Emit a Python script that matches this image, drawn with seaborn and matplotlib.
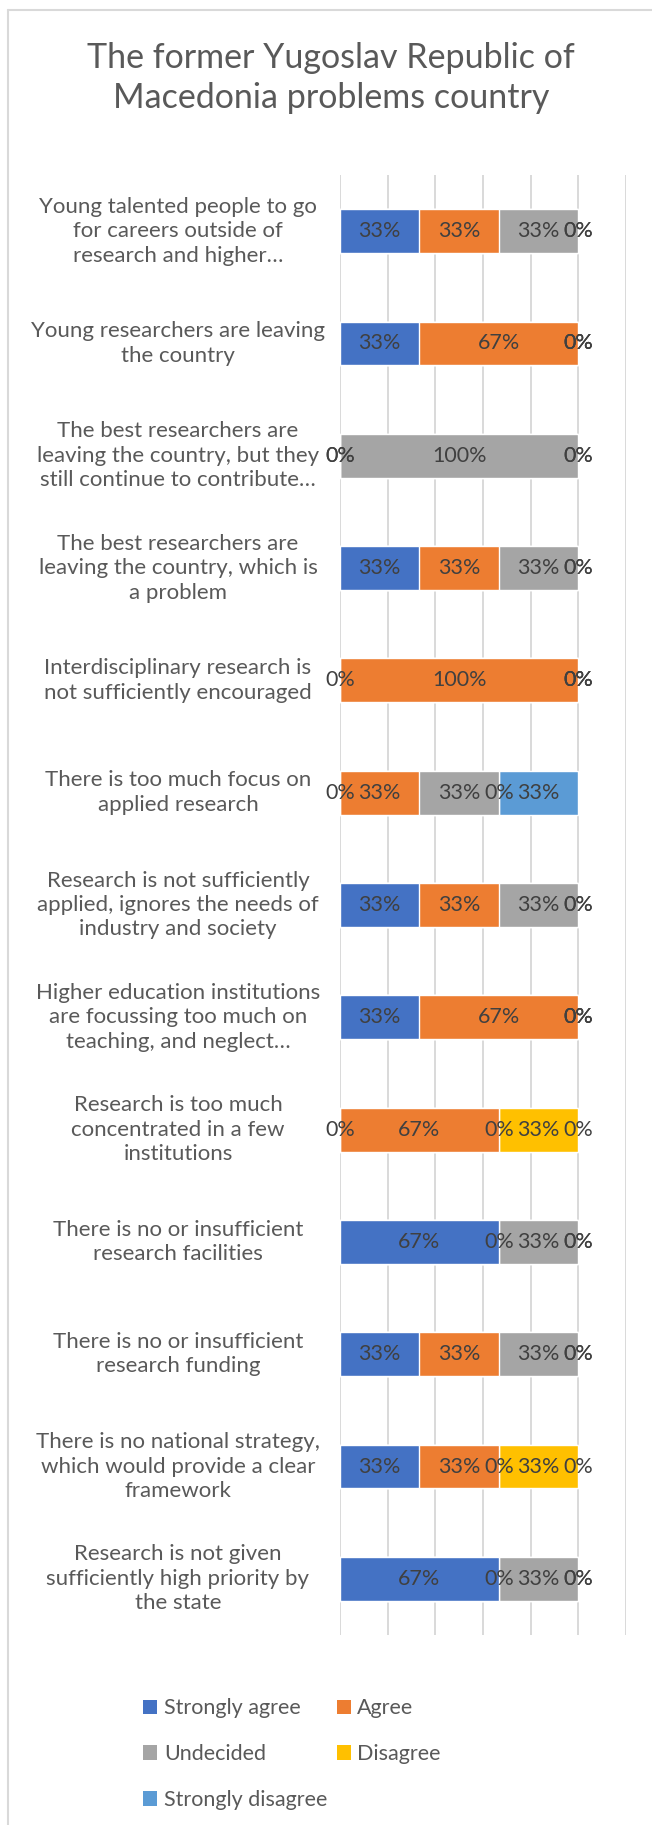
import matplotlib
matplotlib.use("Agg")
import matplotlib.pyplot as plt
import matplotlib.transforms as mtransforms
from matplotlib.lines import Line2D
from matplotlib.patches import Patch
import pandas as pd
import seaborn as sns

categories = [
    "Young talented people to go\nfor careers outside of\nresearch and higher…",
    "Young researchers are leaving\nthe country",
    "The best researchers are\nleaving the country, but they\nstill continue to contribute…",
    "The best researchers are\nleaving the country, which is\na problem",
    "Interdisciplinary research is\nnot sufficiently encouraged",
    "There is too much focus on\napplied research",
    "Research is not sufficiently\napplied, ignores the needs of\nindustry and society",
    "Higher education institutions\nare focussing too much on\nteaching, and neglect…",
    "Research is too much\nconcentrated in a few\ninstitutions",
    "There is no or insufficient\nresearch facilities",
    "There is no or insufficient\nresearch funding",
    "There is no national strategy,\nwhich would provide a clear\nframework",
    "Research is not given\nsufficiently high priority by\nthe state",
]
responses = ["Strongly agree", "Agree", "Undecided", "Disagree", "Strongly disagree"]
# number of respondents (out of 3) per answer
strongly_agree = [1, 1, 0, 1, 0, 0, 1, 1, 0, 2, 1, 1, 2]
agree = [1, 2, 0, 1, 3, 1, 1, 2, 2, 0, 1, 1, 0]
undecided = [1, 0, 3, 1, 0, 1, 1, 0, 0, 1, 1, 0, 1]
disagree = [0, 0, 0, 0, 0, 0, 0, 0, 1, 0, 0, 1, 0]
strongly_disagree = [0, 0, 0, 0, 0, 1, 0, 0, 0, 0, 0, 0, 0]
colors = ["#4472C4", "#ED7D31", "#A5A5A5", "#FFC000", "#5B9BD5"]

W, H = 652, 1825
sns.set_style("white")
plt.rcParams["font.family"] = ["Lato", "DejaVu Sans"]

df = pd.DataFrame({
    "category": categories,
    "Strongly agree": strongly_agree,
    "Agree": agree,
    "Undecided": undecided,
    "Disagree": disagree,
    "Strongly disagree": strongly_disagree,
})
shares = df[responses].div(df[responses].sum(axis=1), axis=0) * 100
cum = shares.cumsum(axis=1)

fig = plt.figure(figsize=(W / 100, H / 100), dpi=100)
ax = fig.add_axes([340 / W, 1 - 1635 / H, 286 / W, 1460 / H])

# stacked bars: draw cumulative totals from the outermost series inwards
for resp, color in reversed(list(zip(responses, colors))):
    sns.barplot(x=cum[resp], y=df["category"], orient="h", color=color,
                saturation=1, width=0.39, ax=ax, zorder=2)

for i in range(len(categories)):
    for resp in responses:
        share = shares.loc[i, resp]
        ax.text(cum.loc[i, resp] - share / 2, i, f"{share:.0f}%", ha="center",
                va="center", fontsize=15.5, color="#404040", zorder=3)

ax.set_xlim(0, 120)
ax.set_ylim(len(categories) - 0.5, -0.5)
ax.set_xticks(range(0, 121, 20))
ax.xaxis.grid(True, color="#D9D9D9", linewidth=1.4)
ax.set_axisbelow(True)
ax.tick_params(length=0, labelbottom=False, labelleft=False)
ax.set_xlabel("")
ax.set_ylabel("")
sns.despine(ax=ax, left=True, bottom=True)

trans = mtransforms.blended_transform_factory(fig.transFigure, ax.transData)
for i, cat in enumerate(categories):
    ax.text(178 / W, i, cat, transform=trans, ha="center", va="center",
            multialignment="center", fontsize=16, color="#595959",
            linespacing=1.28)

fig.text(331 / W, 1 - 78 / H, "The former Yugoslav Republic of\nMacedonia problems country",
         ha="center", va="center", fontsize=24.5, color="#595959",
         linespacing=1.33)

handles = [Patch(facecolor=c, edgecolor="none") for c in colors]
order = [0, 2, 4, 1, 3]
fig.legend([handles[k] for k in order], [responses[k] for k in order],
           loc="upper left", bbox_to_anchor=(124 / W, 1 - 1679 / H),
           ncol=2, frameon=False, fontsize=15.5, labelcolor="#595959",
           handlelength=0.65, handleheight=0.65, handletextpad=0.3,
           labelspacing=1.2, columnspacing=0.45)

# chart area border (only left and top are inside the picture)
fig.add_artist(Line2D([8 / W, 8 / W], [0, 1 - 10 / H], color="#D9D9D9", linewidth=1.5))
fig.add_artist(Line2D([8 / W, 1], [1 - 10 / H, 1 - 10 / H], color="#D9D9D9", linewidth=1.5))

fig.savefig("out.png", dpi=100)
plt.close(fig)
